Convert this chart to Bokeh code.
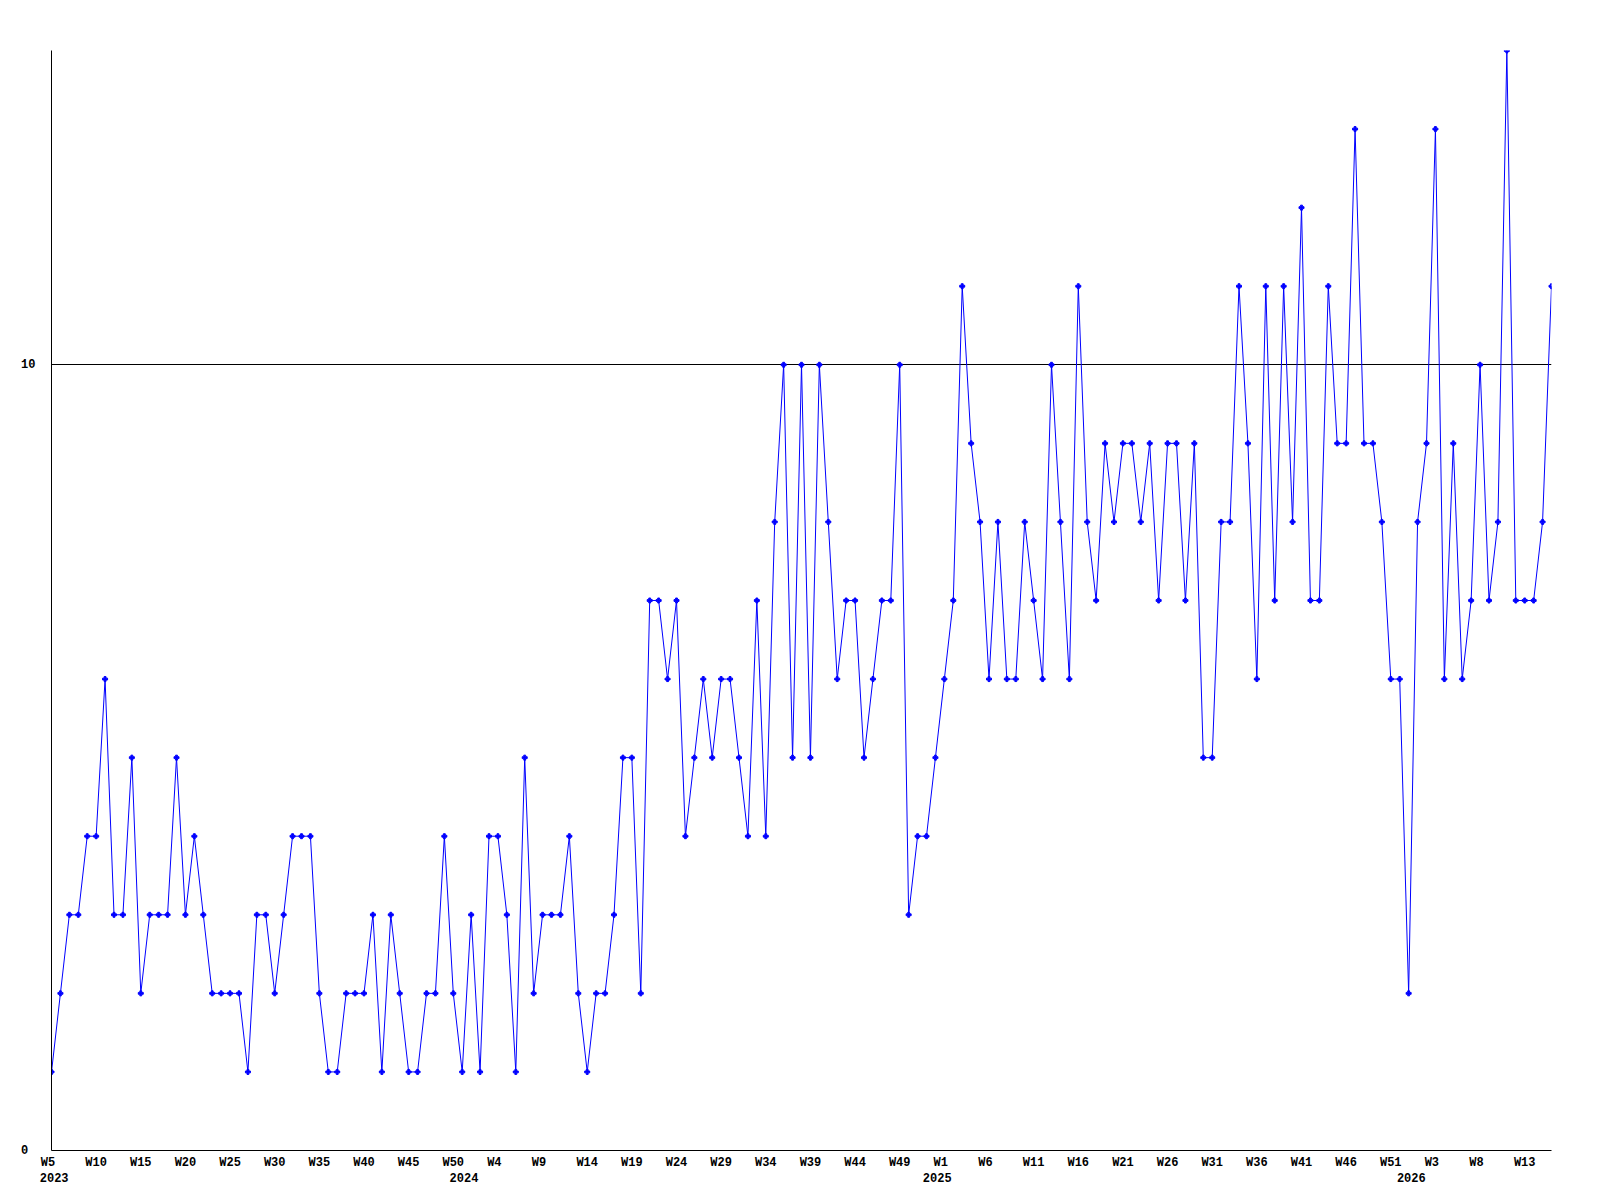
from bokeh.plotting import figure
from bokeh.models import Range1d, FixedTicker, LinearAxis
from bokeh.embed import file_html
from bokeh.resources import INLINE

# weekly counts, 2023 W5 ... 2026 W16 (one value per week)
values = [1, 2, 3, 3, 4, 4, 6, 3, 3, 5,
          2, 3, 3, 3, 5, 3, 4, 3, 2, 2,
          2, 2, 1, 3, 3, 2, 3, 4, 4, 4,
          2, 1, 1, 2, 2, 2, 3, 1, 3, 2,
          1, 1, 2, 2, 4, 2, 1, 3, 1, 4,
          4, 3, 1, 5, 2, 3, 3, 3, 4, 2,
          1, 2, 2, 3, 5, 5, 2, 7, 7, 6,
          7, 4, 5, 6, 5, 6, 6, 5, 4, 7,
          4, 8, 10, 5, 10, 5, 10, 8, 6, 7,
          7, 5, 6, 7, 7, 10, 3, 4, 4, 5,
          6, 7, 11, 9, 8, 6, 8, 6, 6, 8,
          7, 6, 10, 8, 6, 11, 8, 7, 9, 8,
          9, 9, 8, 9, 7, 9, 9, 7, 9, 5,
          5, 8, 8, 11, 9, 6, 11, 7, 11, 8,
          12, 7, 7, 11, 9, 9, 13, 9, 9, 8,
          6, 6, 2, 8, 9, 13, 6, 9, 6, 7,
          10, 7, 8, 14, 7, 7, 7, 8, 11]

# x tick labels, one every 5 weeks starting at the first week
week_labels = ["W5", "W10", "W15", "W20", "W25", "W30", "W35", "W40", "W45", "W50",
               "W4", "W9", "W14", "W19", "W24", "W29", "W34", "W39", "W44", "W49",
               "W1", "W6", "W11", "W16", "W21", "W26", "W31", "W36", "W41", "W46", "W51",
               "W3", "W8", "W13"]
tick_step = 5

# year labels and the week index where each year mark sits
year_labels = ["2023", "2024", "2025", "2026"]
year_weeks = [0.3, 46.2, 99.2, 152.3]

y_ticks = [0, 10]

weeks = list(range(len(values)))

FONT = "Liberation Mono"
BLUE = "#0000ff"

p = figure(frame_width=1500, frame_height=1100,
           x_range=Range1d(0, len(values) - 1), y_range=Range1d(0, max(values)),
           output_backend="svg", toolbar_location=None,
           x_axis_location=None, y_axis_location=None,
           min_border_left=51, min_border_top=50, min_border_right=12,
           min_border_bottom=10)
p.outline_line_color = None
p.background_fill_color = "white"
p.border_fill_color = "white"

p.line(weeks, values, line_color=BLUE, line_width=1)
p.scatter(weeks, values, marker="plus", size=5, color=BLUE)

# grid: only the line at 10
p.xgrid.visible = False
p.ygrid.ticker = FixedTicker(ticks=[10])
p.ygrid.grid_line_color = "black"
p.ygrid.grid_line_width = 1

def style(ax):
    ax.major_tick_line_color = None
    ax.minor_tick_line_color = None
    ax.major_tick_out = 0
    ax.major_tick_in = 0
    ax.minor_tick_out = 0
    ax.minor_tick_in = 0
    ax.major_label_text_font = FONT
    ax.major_label_text_font_style = "bold"
    ax.major_label_text_font_size = "12px"
    ax.major_label_text_color = "black"
    ax.axis_line_color = "black"
    ax.axis_line_width = 1

# y axis
yax = LinearAxis(ticker=FixedTicker(ticks=y_ticks))
style(yax)
yax.major_label_overrides = {t: str(t).ljust(2) for t in y_ticks}
yax.major_label_standoff = 16
p.add_layout(yax, "left")

# week axis
wticks = [i * tick_step for i in range(len(week_labels))]
xax = LinearAxis(ticker=FixedTicker(ticks=wticks))
style(xax)
xax.major_label_overrides = {t: lab.ljust(3) for t, lab in zip(wticks, week_labels)}
xax.major_label_standoff = 5
p.add_layout(xax, "below")

# year axis
yrax = LinearAxis(ticker=FixedTicker(ticks=year_weeks))
style(yrax)
yrax.axis_line_color = None
yrax.major_label_overrides = {t: lab for t, lab in zip(year_weeks, year_labels)}
yrax.major_label_standoff = 0
p.add_layout(yrax, "below")

open("out.html", "w").write(file_html(p, INLINE))
